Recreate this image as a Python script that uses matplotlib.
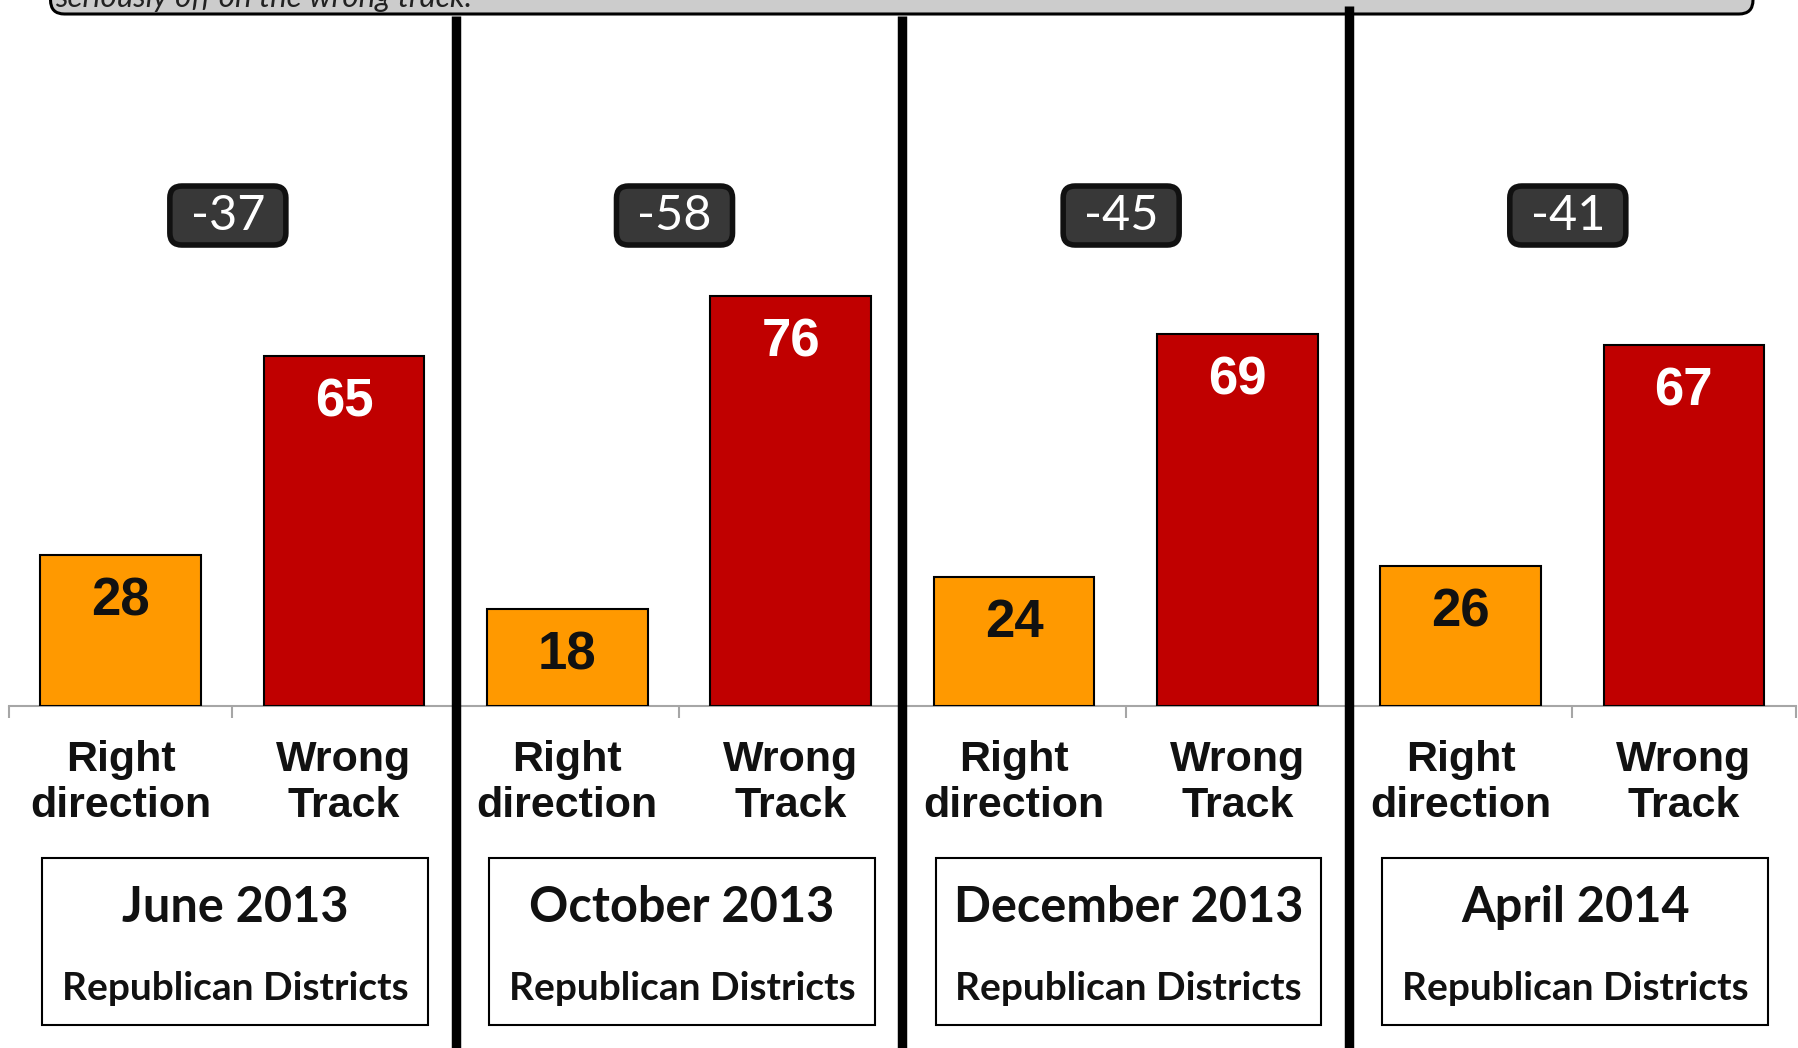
import numpy as np
import matplotlib
matplotlib.use('Agg')
import matplotlib.pyplot as plt
import matplotlib.transforms as mtransforms
from matplotlib.patches import FancyBboxPatch, Rectangle
from matplotlib.lines import Line2D

# survey waves, Republican-held districts
months = ['June 2013', 'October 2013', 'December 2013', 'April 2014']
group_label = 'Republican Districts'
answers = ['Right\ndirection', 'Wrong\nTrack']
right_direction = [28, 18, 24, 26]
wrong_track = [65, 76, 69, 67]
net = [-37, -58, -45, -41]
question_tail = 'seriously off on the wrong track.'

ORANGE = '#FF9900'
RED = '#C00000'

W, H = 1799, 1048
fig = plt.figure(figsize=(W / 100, H / 100), dpi=100)
fig.patch.set_facecolor('white')

# main axes: baseline at 706px from top, 5.39 px per point
ax = fig.add_axes([9 / W, 1 - 706 / H, 1786.6 / W, 700.7 / H])
ax.set_xlim(-0.5, 7.5)
ax.set_ylim(0, 130)
for s in ['left', 'top', 'right']:
    ax.spines[s].set_visible(False)
ax.spines['bottom'].set_color('#a6a6a6')
ax.spines['bottom'].set_linewidth(1.5)
ax.set_yticks([])
ax.set_xticks(np.arange(-0.5, 8, 1))
ax.set_xticklabels([])
ax.tick_params(axis='x', direction='out', length=8.5, width=1.5, color='#a6a6a6')

x_right = np.arange(len(months)) * 2
x_wrong = x_right + 1
bw = 0.72
ax.bar(x_right, right_direction, width=bw, color=ORANGE, edgecolor='black', linewidth=1.5, zorder=3)
ax.bar(x_wrong, wrong_track, width=bw, color=RED, edgecolor='black', linewidth=1.5, zorder=3)

# px -> data conversion for the rounded net boxes
px_x = 1 / 223.3
px_y = 1 / 5.39

for i in range(len(months)):
    ax.text(x_right[i], right_direction[i] - 8.6, str(right_direction[i]), ha='center', va='center',
            fontsize=38, fontweight='bold', family='Liberation Sans', color='#111111', zorder=4)
    ax.text(x_wrong[i], wrong_track[i] - 8.6, str(wrong_track[i]), ha='center', va='center',
            fontsize=38, fontweight='bold', family='Liberation Sans', color='white', zorder=4)

    for x, lab in zip([x_right[i], x_wrong[i]], answers):
        ax.text(x, -14.3, lab, ha='center', va='center', fontsize=31, fontweight='bold',
                family='Liberation Sans', color='#111111', linespacing=1.22, clip_on=False)

    mid = x_right[i] + 0.5
    bw_box = 116 * px_x
    bh_box = 59 * px_y
    ax.add_patch(FancyBboxPatch((mid - 0.02 - bw_box / 2, 91 - bh_box / 2), bw_box, bh_box,
                                boxstyle='round,pad=0,rounding_size=%f' % (12 * px_x),
                                mutation_aspect=px_y / px_x,
                                fc='#383838', ec='#111111', lw=4, zorder=5))
    ax.text(mid - 0.02, 91, str(net[i]), ha='center', va='center', color='white', fontsize=35,
            family='Lato', zorder=6)

    ax.add_patch(Rectangle((x_right[i] - 0.35, -59.1), 1.726, 30.9, fc='white', ec='black',
                           lw=1.5, clip_on=False))
    ax.text(mid + 0.013, -37.3, months[i], ha='center', va='center', fontsize=35, fontweight='bold',
            family='Lato', color='#111111', clip_on=False)
    ax.text(mid + 0.013, -52.5, group_label, ha='center', va='center', fontsize=28, fontweight='bold',
            family='Lato', color='#111111', clip_on=False)

# overlay in pixel units for the question banner
ov = fig.add_axes([0, 0, 1, 1])
ov.set_xlim(0, W)
ov.set_ylim(0, H)
ov.axis('off')
ov.set_facecolor('none')
ov.add_patch(FancyBboxPatch((50.5, H - 14), 1702.5, 80, boxstyle='round,pad=0,rounding_size=14',
                            fc='#cccccc', ec='black', lw=2.2, clip_on=False))
ov.text(55, H - 7, question_tail, style='italic', fontsize=22.5, family='Lato', color='#222222',
        va='baseline', ha='left', clip_on=False)

# thick separators between survey waves
trans = mtransforms.blended_transform_factory(ax.transData, fig.transFigure)
tops = [1 - 16 / H, 1 - 16 / H, 1 - 6 / H]
for xs, top in zip([1.5, 3.5, 5.5], tops):
    fig.add_artist(Line2D([xs, xs], [0, top], transform=trans, color='black', lw=6.8,
                          solid_capstyle='butt'))

fig.savefig('out.png', dpi=100)
